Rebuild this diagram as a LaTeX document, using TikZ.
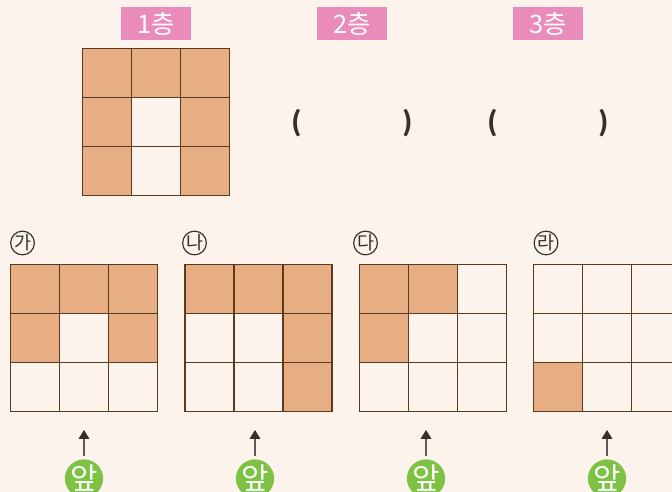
\documentclass[tikz,border=0pt]{standalone}
\usepackage{fontspec}
\usetikzlibrary{arrows.meta}
\setmainfont{Noto Sans CJK KR}
\definecolor{bgcream}{HTML}{FCF3EC}
\definecolor{tilebrown}{HTML}{E6AE82}
\definecolor{linebrown}{HTML}{5B3A1E}
\definecolor{headpink}{HTML}{E98BBB}
\definecolor{frontgreen}{HTML}{7DC242}
\definecolor{inkdark}{HTML}{33302E}
\tikzset{
  cellbox/.style={draw=linebrown,line width=0.65pt},
  tilefill/.style={fill=tilebrown},
  headbox/.style={fill=headpink,text=white,minimum width=70*0.02cm,minimum height=33*0.02cm,inner sep=0pt,font=\fontsize{14.5}{14.5}\selectfont},
  parenlabel/.style={text=inkdark,inner sep=0pt,font=\bfseries\fontsize{15}{15}\selectfont},
  gridlabel/.style={circle,draw=inkdark,line width=0.65pt,text=inkdark,minimum size=22*0.02cm,inner sep=0pt,font=\fontsize{10.5}{10.5}\selectfont},
  frontdot/.style={circle,fill=frontgreen,text=white,minimum size=38*0.02cm,inner sep=0pt,font=\fontsize{17}{17}\selectfont},
}
\begin{document}
\begin{tikzpicture}[x=0.02cm,y=-0.02cm]
      % 배경
      \fill[bgcream] (0,0) rectangle (672,492);
      \useasboundingbox (0,0) rectangle (672,492);
      \clip (0,0) rectangle (672,492);
      % 층 제목
      \node[headbox] (head1) at (156,23.5) {1층};
      \node[headbox] (head2) at (352,23.5) {2층};
      \node[headbox] (head3) at (548,23.5) {3층};
      % 1층 그림
      \foreach \c/\r in {0/0,1/0,2/0,0/1,2/1,0/2,2/2}
      \fill[tilefill] (82.5+\c*49,48.5+\r*49) rectangle ++(49,49);
      \foreach \c in {0,1,2}
      \foreach \r in {0,1,2}
      \draw[cellbox] (82.5+\c*49,48.5+\r*49) rectangle ++(49,49);
      % 괄호
      \node[parenlabel] (open2) at (297,123) {(};
      \node[parenlabel] (close2) at (407.5,123) {)};
      \node[parenlabel] (open3) at (493,123) {(};
      \node[parenlabel] (close3) at (603.5,123) {)};
      % 보기 가
      \foreach \c/\r in {0/0,1/0,2/0,0/1,2/1}
      \fill[tilefill] (10.5+\c*49,264.5+\r*49) rectangle ++(49,49);
      % 보기 나
      \foreach \c/\r in {0/0,1/0,2/0,2/1,2/2}
      \fill[tilefill] (185+\c*49,264.5+\r*49) rectangle ++(49,49);
      % 보기 다
      \foreach \c/\r in {0/0,1/0,0/1}
      \fill[tilefill] (359.5+\c*49,264.5+\r*49) rectangle ++(49,49);
      % 보기 라
      \foreach \c/\r in {0/2}
      \fill[tilefill] (533.5+\c*49,264.5+\r*49) rectangle ++(49,49);
      % 격자, 기호, 앞 표시
      \foreach \gx/\lx/\fx/\name/\txt in {10.5/22.5/84/ga/가,185/194.5/255/na/나,359.5/365.5/426/da/다,533.5/546/607/ra/라}{
        \foreach \c in {0,1,2}
        \foreach \r in {0,1,2}
        \draw[cellbox] (\gx+\c*49,264.5+\r*49) rectangle ++(49,49);
        \node[gridlabel] (label\name) at (\lx,243) {\txt};
        \node[frontdot] (front\name) at (\fx,478.5) {앞};
        \coordinate (tip\name) at (\fx,430);
        \draw[-{Triangle[length=5pt,width=6pt,color=inkdark]},gray!70!black,line width=0.7pt,shorten <=1.5pt] (front\name.north) -- (tip\name);
      }
    \end{tikzpicture}
\end{document}
